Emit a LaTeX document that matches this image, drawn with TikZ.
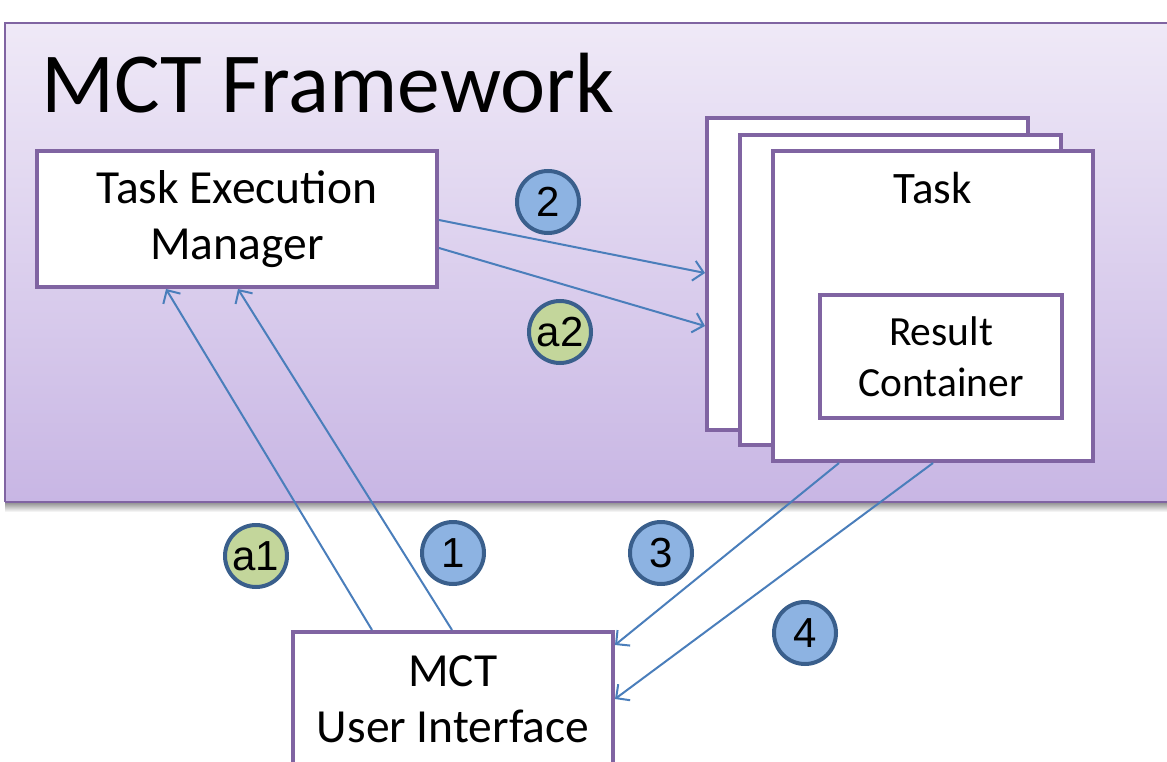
\documentclass[tikz,border=0pt]{standalone}
\usepackage{fontspec}
\setmainfont{Carlito}
\newfontfamily\numfont{Liberation Sans}
\usetikzlibrary{arrows.meta}
\definecolor{boxpurple}{HTML}{8064A2}
\definecolor{arrowblue}{HTML}{4A7EBB}
\definecolor{circblue}{HTML}{8DB3E2}
\definecolor{circgreen}{HTML}{C3D69B}
\definecolor{circborder}{HTML}{3A5F8C}
\definecolor{frametop}{HTML}{EFE9F7}
\definecolor{framebot}{HTML}{C8B6E4}
\tikzset{
  whitebox/.style={draw=boxpurple, line width=4pt, fill=white, inner sep=0pt},
  flow/.style={draw=arrowblue, line width=2pt, -{Straight Barb[length=10pt,width=20pt,line width=2pt]}},
  numcirc/.style={circle, draw=circborder, line width=4pt, minimum size=62pt, inner sep=0pt, font=\numfont\fontsize{42}{42}\selectfont},
  bluec/.style={numcirc, fill=circblue},
  greenc/.style={numcirc, fill=circgreen},
}
\begin{document}
\begin{tikzpicture}[x=1pt,y=-1pt]
\useasboundingbox (0,0) rectangle (1167,762);
\clip (0,0) rectangle (1167,762);
% shadow of framework
\shade[top color=black!45, bottom color=white] (5,502) rectangle (1180,512);
% framework
\shade[top color=frametop, bottom color=framebot] (5,23) rectangle (1180,502);
\draw[draw=boxpurple, line width=2.5pt] (5,502) -- (5,23) -- (1180,23);
\draw[draw=boxpurple, line width=2.5pt] (5,502) -- (1180,502);
\node[anchor=base west, inner sep=0pt, font=\fontsize{85.5}{85.5}\selectfont] (title) at (41,113) {MCT Framework};
% task execution manager
\node[whitebox, minimum width=400pt, minimum height=136pt, align=center, font=\fontsize{47.5}{56}\selectfont] (tem) at (237,219) {Task Execution\\Manager};
% stacked tasks
\node[whitebox, minimum width=321pt, minimum height=312pt] (task1) at (867.5,274) {};
\node[whitebox, minimum width=321pt, minimum height=310pt] (task2) at (900.5,290) {};
\node[whitebox, minimum width=320pt, minimum height=310pt] (task3) at (933,306) {};
\node[anchor=base, inner sep=0pt, font=\fontsize{45}{45}\selectfont] (tasklabel) at (933,204) {Task};
\node[whitebox, minimum width=242pt, minimum height=123pt, align=center, font=\fontsize{41.5}{51}\selectfont] (result) at (941,356.5) {Result\\Container};
% user interface
\node[whitebox, minimum width=320pt, minimum height=160pt, anchor=north] (ui) at (453,630) {};
\node[anchor=base, inner sep=0pt, font=\fontsize{47.5}{47.5}\selectfont] (uitext1) at (453,686) {MCT};
\node[anchor=base, inner sep=0pt, font=\fontsize{47.5}{47.5}\selectfont] (uitext2) at (453,742) {User Interface};
% connectors
\draw[flow] ([yshift=-1pt]tem.east) -- ([yshift=1pt]task1.west);
\draw[flow] ([yshift=-29pt]tem.east) -- ([yshift=-52pt]task1.west);
\draw[flow] ([xshift=-81pt]ui.north) -- ([xshift=-71pt]tem.south);
\draw[flow] ([xshift=-1pt]ui.north) -- ([xshift=1pt]tem.south);
\draw[flow] ([xshift=-94pt]task3.south) -- ([yshift=67pt]ui.east);
\draw[flow] (task3.south) -- ([yshift=13pt]ui.east);
% step markers
\node[bluec] (c2) at (548,202) {2};
\node[greenc] (ca2) at (560,332) {a2};
\node[greenc] (ca1) at (256,556) {a1};
\node[bluec] (c1) at (453,553) {1};
\node[bluec] (c3) at (661,553) {3};
\node[bluec] (c4) at (805,633) {4};
\end{tikzpicture}
\end{document}
